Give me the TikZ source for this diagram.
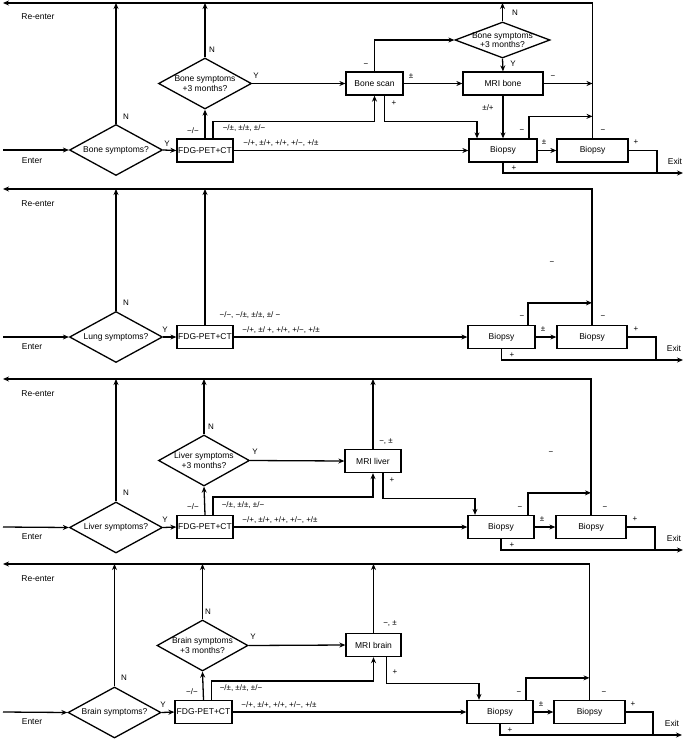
\documentclass[tikz,border=0pt]{standalone}
\usepackage{fontspec}
\setmainfont{Liberation Sans}
\usetikzlibrary{shapes.geometric,arrows.meta}

\begin{document}
\begin{tikzpicture}[
        x=1pt,y=-1pt,line width=1.3pt,
        every node/.style={font=\fontsize{8.5}{9.5}\selectfont},
        decision/.style={diamond,draw,aspect=1.8,inner sep=0pt,minimum width=93pt,minimum height=51pt,align=center},
        testbox/.style={rectangle,draw,minimum height=23pt,inner sep=0pt},
        lbl/.style={font=\fontsize{8}{9}\selectfont,inner sep=0pt},
        arr/.style={-{Stealth[length=6pt,width=5pt]}}
    ]
        \useasboundingbox (0,0) rectangle (685,739);

        % bone
        \node[decision] (bo-sym) at (116,150) {Bone symptoms?};
        \node[testbox,minimum width=56pt] (bo-pet) at (205,150.5) {FDG-PET+CT};
        \node[decision] (bo-wait) at (205,83.5) {Bone symptoms\\+3 months?};
        \node[testbox,minimum width=57pt] (bo-scan) at (374.5,83.5) {Bone scan};
        \node[decision,aspect=2.6,minimum width=95pt,minimum height=36pt,inner sep=-3pt] (bo-wait2) at (502.5,40) {Bone symptoms\\+3 months?};
        \node[testbox,minimum width=80pt] (bo-mri) at (503,83.5) {MRI bone};
        \node[testbox,minimum width=68pt] (bo-bx1) at (503,150.5) {Biopsy};
        \node[testbox,minimum width=71pt] (bo-bx2) at (592.5,150.5) {Biopsy};
        \coordinate (bo-in) at (3,150);
        \coordinate (bo-out) at (3,3);
        \coordinate (bo-exit) at (683,173);

        \draw[arr] (bo-in) -- (bo-sym.west);
        \draw[arr] (bo-sym.north) -- (bo-sym.north |- bo-out);
        \draw[arr] (bo-sym.east) -- (bo-pet.west);
        \draw[arr] (bo-pet.north) -- (bo-wait.south);
        \draw[arr] (bo-wait.north) -- (bo-wait.north |- bo-out);
        \draw[arr] (bo-wait.east) -- (bo-scan.west);
        \draw[arr] ([xshift=8pt]bo-pet.north) -- ++(0,-17) -| (bo-scan.south);
        \draw[arr] (bo-pet.east) -- (bo-bx1.west);
        \draw[arr] (bo-scan.north) |- (bo-wait2.west);
        \draw[arr] (bo-wait2.north) -- (bo-wait2.north |- bo-out);
        \draw[arr] (bo-wait2.south) -- (bo-mri.north);
        \draw[arr] (bo-scan.east) -- (bo-mri.west);
        \draw[arr] ([xshift=10pt]bo-scan.south) -- ++(0,26) -| ([xshift=-26pt]bo-bx1.north);
        \draw[arr] (bo-mri.south) -- (bo-bx1.north);
        \draw[arr] (bo-mri.east) -- (bo-mri.east -| bo-bx2.north);
        \draw[arr] ([xshift=26pt]bo-bx1.north) |- ([yshift=22pt]bo-bx2.north);
        \draw[arr] (bo-bx2.north) |- (bo-out);
        \draw[arr] (bo-bx1.east) -- (bo-bx2.west);
        \draw (bo-bx2.east) -| ([xshift=-26pt]bo-exit);
        \draw[arr] (bo-bx1.south) |- (bo-exit);

        \node (bo-re) at (38,17) {Re-enter};
        \node (bo-en) at (32,161) {Enter};
        \node (bo-ex) at (675,161) {Exit};
        \node[lbl] (bo-l1) at (126,117) {N};
        \node[lbl] (bo-l2) at (167,144) {Y};
        \node[lbl] (bo-l3) at (193,131) {−/−};
        \node[lbl] (bo-l4) at (212,50) {N};
        \node[lbl] (bo-l5) at (256,76) {Y};
        \node[lbl] (bo-l6) at (244,128) {−/±, ±/±, ±/−};
        \node[lbl] (bo-l7) at (281,143) {−/+, ±/+, +/+, +/−, +/±};
        \node[lbl] (bo-l8) at (366,65) {−};
        \node[lbl] (bo-l9) at (515,13) {N};
        \node[lbl] (bo-l10) at (513,64) {Y};
        \node[lbl] (bo-l11) at (411,76) {±};
        \node[lbl] (bo-l12) at (394,103) {+};
        \node[lbl] (bo-l13) at (488,108) {±/+};
        \node[lbl] (bo-l14) at (553,77) {−};
        \node[lbl] (bo-l15) at (522,131) {−};
        \node[lbl] (bo-l16) at (544,142) {±};
        \node[lbl] (bo-l17) at (603,131) {−};
        \node[lbl] (bo-l18) at (636,142) {+};
        \node[lbl] (bo-l19) at (514,168) {+};

        % lung
        \node[decision] (lu-sym) at (116,337) {Lung symptoms?};
        \node[testbox,minimum width=56pt] (lu-pet) at (205,337) {FDG-PET+CT};
        \node[testbox,minimum width=67pt] (lu-bx1) at (501.5,337) {Biopsy};
        \node[testbox,minimum width=70pt] (lu-bx2) at (592,337) {Biopsy};
        \coordinate (lu-in) at (3,337);
        \coordinate (lu-out) at (3,189);
        \coordinate (lu-exit) at (683,360);

        \draw[arr] (lu-in) -- (lu-sym.west);
        \draw[arr] (lu-sym.north) -- (lu-sym.north |- lu-out);
        \draw[arr] (lu-sym.east) -- (lu-pet.west);
        \draw[arr] (lu-pet.north) -- (lu-pet.north |- lu-out);
        \draw[arr] (lu-pet.east) -- (lu-bx1.west);
        \draw[arr] ([xshift=26.5pt]lu-bx1.north) |- ([yshift=22pt]lu-bx2.north);
        \draw[arr] (lu-bx2.north) |- (lu-out);
        \draw[arr] (lu-bx1.east) -- (lu-bx2.west);
        \draw (lu-bx2.east) -| ([xshift=-27pt]lu-exit);
        \draw[arr] (lu-bx1.south) |- (lu-exit);

        \node (lu-re) at (38,204) {Re-enter};
        \node (lu-en) at (32,347) {Enter};
        \node (lu-ex) at (674,348) {Exit};
        \node[lbl] (lu-l1) at (126,303) {N};
        \node[lbl] (lu-l2) at (165,330) {Y};
        \node[lbl] (lu-l3) at (250,315) {−/−, −/±, ±/±, ±/ −};
        \node[lbl] (lu-l4) at (281,330) {−/+, ±/ +, +/+, +/−, +/±};
        \node[lbl] (lu-l5) at (552,263) {−};
        \node[lbl] (lu-l6) at (522,317) {−};
        \node[lbl] (lu-l7) at (543,329) {±};
        \node[lbl] (lu-l8) at (603,317) {−};
        \node[lbl] (lu-l9) at (636,329) {+};
        \node[lbl] (lu-l10) at (512,355) {+};

        % liver
        \node[decision] (li-sym) at (116,527.5) {Liver symptoms?};
        \node[testbox,minimum width=56pt] (li-pet) at (205,527) {FDG-PET+CT};
        \node[decision,minimum width=91pt] (li-wait) at (204,460.5) {Liver symptoms\\+3 months?};
        \node[testbox,minimum width=56pt] (li-mri) at (373,461) {MRI liver};
        \node[testbox,minimum width=66pt] (li-bx1) at (501,527) {Biopsy};
        \node[testbox,minimum width=70pt] (li-bx2) at (591,527) {Biopsy};
        \coordinate (li-in) at (3,527);
        \coordinate (li-out) at (3,379);
        \coordinate (li-exit) at (683,550);

        \draw[arr] (li-in) -- (li-sym.west);
        \draw[arr] (li-sym.north) -- (li-sym.north |- li-out);
        \draw[arr] (li-sym.east) -- (li-pet.west);
        \draw[arr] (li-pet.north) -- (li-wait.south);
        \draw[arr] (li-wait.north) -- (li-wait.north |- li-out);
        \draw[arr] (li-wait.east) -- (li-mri.west);
        \draw[arr] ([xshift=8pt]li-pet.north) -- ++(0,-18) -| (li-mri.south);
        \draw[arr] (li-pet.east) -- (li-bx1.west);
        \draw[arr] (li-mri.north) -- (li-mri.north |- li-out);
        \draw[arr] ([xshift=10pt]li-mri.south) -- ++(0,25) -| ([xshift=-26pt]li-bx1.north);
        \draw[arr] ([xshift=27pt]li-bx1.north) |- ([yshift=22pt]li-bx2.north);
        \draw[arr] (li-bx2.north) |- (li-out);
        \draw[arr] (li-bx1.east) -- (li-bx2.west);
        \draw (li-bx2.east) -| ([xshift=-28pt]li-exit);
        \draw[arr] (li-bx1.south) |- (li-exit);

        \node (li-re) at (38,394) {Re-enter};
        \node (li-en) at (32,537) {Enter};
        \node (li-ex) at (674,538) {Exit};
        \node[lbl] (li-l1) at (126,493) {N};
        \node[lbl] (li-l2) at (165,520) {Y};
        \node[lbl] (li-l3) at (193,507) {−/−};
        \node[lbl] (li-l4) at (211,427) {N};
        \node[lbl] (li-l5) at (255,452) {Y};
        \node[lbl] (li-l6) at (243,505) {−/±, ±/±, ±/−};
        \node[lbl] (li-l7) at (280,520) {−/+, ±/+, +/+, +/−, +/±};
        \node[lbl] (li-l8) at (386,442) {−, ±};
        \node[lbl] (li-l9) at (392,480) {+};
        \node[lbl] (li-l10) at (551,453) {−};
        \node[lbl] (li-l11) at (520,508) {−};
        \node[lbl] (li-l12) at (542,519) {±};
        \node[lbl] (li-l13) at (605,508) {−};
        \node[lbl] (li-l14) at (635,519) {+};
        \node[lbl] (li-l15) at (512,545) {+};

        % brain
        \node[decision] (br-sym) at (114.5,712.5) {Brain symptoms?};
        \node[testbox,minimum width=57pt] (br-pet) at (203.5,712) {FDG-PET+CT};
        \node[decision,minimum width=91pt] (br-wait) at (202.5,645.5) {Brain symptoms\\+3 months?};
        \node[testbox,minimum width=55pt] (br-mri) at (373.5,645) {MRI brain};
        \node[testbox,minimum width=66pt] (br-bx1) at (500,712) {Biopsy};
        \node[testbox,minimum width=71pt] (br-bx2) at (589.5,712) {Biopsy};
        \coordinate (br-in) at (3,712);
        \coordinate (br-out) at (3,564);
        \coordinate (br-exit) at (682,735);

        \draw[arr] (br-in) -- (br-sym.west);
        \draw[arr] (br-sym.north) -- (br-sym.north |- br-out);
        \draw[arr] (br-sym.east) -- (br-pet.west);
        \draw[arr] (br-pet.north) -- (br-wait.south);
        \draw[arr] (br-wait.north) -- (br-wait.north |- br-out);
        \draw[arr] (br-wait.east) -- (br-mri.west);
        \draw[arr] ([xshift=8pt]br-pet.north) -- ++(0,-19) -| (br-mri.south);
        \draw[arr] (br-pet.east) -- (br-bx1.west);
        \draw[arr] (br-mri.north) -- (br-mri.north |- br-out);
        \draw[arr] ([xshift=13pt]br-mri.south) -- ++(0,26) -| ([xshift=-21pt]br-bx1.north);
        \draw[arr] ([xshift=26pt]br-bx1.north) |- ([yshift=22pt]br-bx2.north);
        \draw[arr] (br-bx2.north) |- (br-out);
        \draw[arr] (br-bx1.east) -- (br-bx2.west);
        \draw (br-bx2.east) -| ([xshift=-29pt]br-exit);
        \draw[arr] (br-bx1.south) |- (br-exit);

        \node (br-re) at (38,579) {Re-enter};
        \node (br-en) at (32,722) {Enter};
        \node (br-ex) at (672,723) {Exit};
        \node[lbl] (br-l1) at (124,678) {N};
        \node[lbl] (br-l2) at (163,705) {Y};
        \node[lbl] (br-l3) at (192,692) {−/−};
        \node[lbl] (br-l4) at (208,612) {N};
        \node[lbl] (br-l5) at (253,637) {Y};
        \node[lbl] (br-l6) at (241,688) {−/±, ±/±, ±/−};
        \node[lbl] (br-l7) at (279,705) {−/+, ±/+, +/+, +/−, +/±};
        \node[lbl] (br-l8) at (390,624) {−, ±};
        \node[lbl] (br-l9) at (395,672) {+};
        \node[lbl] (br-l10) at (519,693) {−};
        \node[lbl] (br-l11) at (541,704) {±};
        \node[lbl] (br-l12) at (604,693) {−};
        \node[lbl] (br-l13) at (633,704) {+};
        \node[lbl] (br-l14) at (510,730) {+};
    \end{tikzpicture}
\end{document}
